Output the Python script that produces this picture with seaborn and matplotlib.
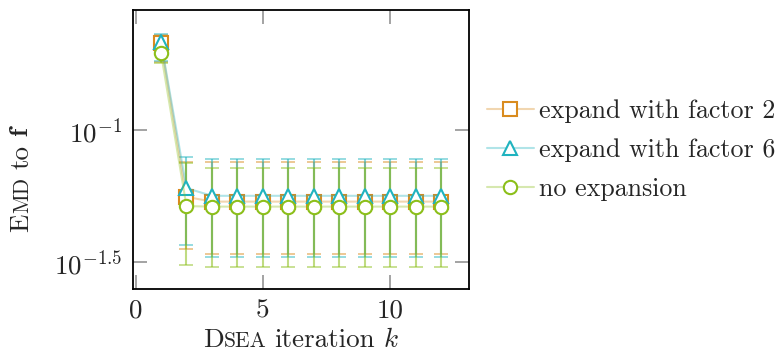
import numpy as np
import matplotlib
matplotlib.use("Agg")
import matplotlib.pyplot as plt
from matplotlib.ticker import FixedLocator, FixedFormatter, NullLocator
import seaborn as sns

# DSEA iterations
k = list(range(1, 13))

# EMD to f: central values and error-bar bounds per configuration
series_names = ["expand with factor 2", "expand with factor 6", "no expansion"]

emd_factor2 = [0.2138, 0.05585] + [0.05358] * 10
lo_factor2 = [0.181, 0.0354] + [0.0339] * 10
hi_factor2 = [0.2286, 0.0759] + [0.0759] * 10

emd_factor6 = [0.2158, 0.06026] + [0.05636] * 10
lo_factor6 = [0.182, 0.03664] + [0.0330] * 10
hi_factor6 = [0.231, 0.0793] + [0.0774] * 10

emd_none = [0.1959, 0.05152] + [0.05129] * 10
lo_none = [0.179, 0.0308] + [0.0303] * 10
hi_none = [0.226, 0.0752] + [0.0719] * 10

ytick_values = [10 ** -1.5, 10 ** -1]
ytick_labels = [r"$10^{-1.5}$", r"$10^{-1}$"]
xtick_values = [0, 5, 10]

colors = ["#d98b1e", "#1fb3bf", "#8cbf1a"]
markers = ["s", "^", "o"]
msizes = [9.4, 9.6, 9.6]

sns.set_style("ticks")
plt.rcParams.update({
    "font.family": ["cmr10"],
    "mathtext.fontset": "cm",
    "axes.formatter.use_mathtext": True,
    "axes.unicode_minus": True,
})

FS = 19.5
SC = 15.5
LEG_FS = 18.7
fig = plt.figure(figsize=(7.83, 3.58), dpi=100)
W, H = 783, 358
ax = fig.add_axes([133 / W, 1 - 289 / H, (469 - 133) / W, (289 - 10) / H])

data = [
    (emd_factor2, lo_factor2, hi_factor2),
    (emd_factor6, lo_factor6, hi_factor6),
    (emd_none, lo_none, hi_none),
]

# error bars first, so the hollow marks sit on top of them
for (vals, lo, hi), c in zip(data, colors):
    v = np.asarray(vals)
    yerr = [v - np.asarray(lo), np.asarray(hi) - v]
    ax.errorbar(k, v, yerr=yerr, fmt="none", ecolor=c, alpha=0.55,
                elinewidth=1.5, capsize=5, capthick=1.2, zorder=2)

handles = []
for (vals, lo, hi), c, m, ms, name in zip(data, colors, markers, msizes, series_names):
    sns.lineplot(x=k, y=vals, ax=ax, color=c, marker=m, markersize=ms,
                 markerfacecolor="white", markeredgecolor=c, markeredgewidth=1.5,
                 linewidth=1.5, label=name, zorder=3, legend=False)
    line = ax.lines[-1]
    rgba = matplotlib.colors.to_rgba(c, 0.35)
    line.set_color(rgba)
    line.set_markeredgecolor(c)
    handles.append(line)

ax.set_yscale("log")
ax.set_xlim(-0.1, 13.1)
ax.set_ylim(0.0250, 0.285)
ax.yaxis.set_major_locator(FixedLocator(ytick_values))
ax.yaxis.set_major_formatter(FixedFormatter(ytick_labels))
ax.yaxis.set_minor_locator(NullLocator())
ax.xaxis.set_major_locator(FixedLocator(xtick_values))
ax.set_xticklabels([str(v) for v in xtick_values])

for s in ax.spines.values():
    s.set_visible(True)
    s.set_color("black")
    s.set_linewidth(1.3)

ax.tick_params(axis="both", which="major", direction="in", length=10, width=1.1,
               color="#8a8a8a", top=True, right=True, labelsize=FS)
ax.tick_params(axis="y", pad=8)
ax.tick_params(axis="x", pad=7)

leg = ax.legend(handles=handles, labels=series_names, loc="center left",
                bbox_to_anchor=(487 / W, 1 - 150 / H), bbox_transform=fig.transFigure,
                frameon=False, fontsize=LEG_FS, handlelength=1.8, handletextpad=0.2,
                labelspacing=0.58, borderpad=0, borderaxespad=0)


def small_caps_label(pieces, x, y, rotation):
    """Place text pieces of different sizes along one baseline."""
    renderer = fig.canvas.get_renderer()
    texts = []
    lengths = []
    for txt, size in pieces:
        if txt is None:
            texts.append(None)
            lengths.append(size)
            continue
        t = fig.text(0, 0, txt, fontsize=size, rotation=rotation,
                     rotation_mode="anchor", ha="left", va="baseline")
        bb = t.get_window_extent(renderer)
        lengths.append(bb.height if rotation else bb.width)
        texts.append(t)
    total = sum(lengths)
    pos = -total / 2
    for t, L in zip(texts, lengths):
        if t is not None:
            if rotation:
                t.set_position((x, y + pos / H))
            else:
                t.set_position((x + pos / W, y))
        pos += L


gap = 8
small_caps_label([("D", FS), ("SEA", SC), (None, gap), ("iteration", FS),
                  (None, gap), (r"$k$", FS)],
                 301 / W, 1 - 347 / H, 0)
small_caps_label([("E", FS), ("MD", SC), (None, gap), ("to", FS),
                  (None, gap), (r"$\mathbf{f}$", FS)],
                 28.5 / W, 1 - 178 / H, 90)

fig.savefig("out.png", dpi=100)
